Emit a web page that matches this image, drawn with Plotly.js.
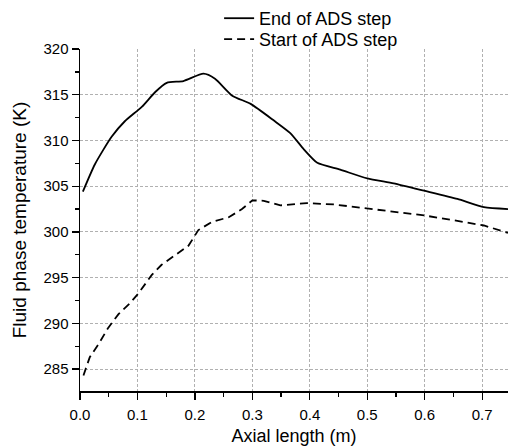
<!DOCTYPE html>
<html>
<head>
<meta charset="utf-8">
<script src="https://cdn.plot.ly/plotly-3.0.1.min.js"></script>
<style>html,body{margin:0;padding:0;background:#fff;}#chart{width:508px;height:448px;}</style>
</head>
<body>
<div id="chart"></div>
<script>
const endX = [0.005, 0.026, 0.055, 0.078, 0.108, 0.131, 0.151, 0.180, 0.215, 0.235, 0.265, 0.297, 0.337, 0.366, 0.390, 0.413, 0.453, 0.500, 0.546, 0.599, 0.657, 0.703, 0.745];
const endT = [304.4, 307.4, 310.4, 312.1, 313.7, 315.3, 316.3, 316.5, 317.3, 316.75, 314.9, 314.0, 312.2, 310.8, 309.0, 307.55, 306.8, 305.85, 305.3, 304.5, 303.6, 302.7, 302.5];
const startX = [0.006, 0.017, 0.032, 0.049, 0.067, 0.087, 0.102, 0.125, 0.142, 0.166, 0.189, 0.206, 0.230, 0.259, 0.282, 0.300, 0.320, 0.349, 0.395, 0.442, 0.483, 0.541, 0.599, 0.657, 0.703, 0.745];
const startT = [284.3, 286.3, 287.7, 289.5, 291.0, 292.2, 293.3, 295.3, 296.4, 297.5, 298.5, 300.2, 301.1, 301.6, 302.5, 303.45, 303.4, 302.9, 303.15, 303.0, 302.7, 302.3, 301.8, 301.2, 300.7, 299.9];
const seriesNames = ["End of ADS step", "Start of ADS step"];

const font = "Liberation Sans, Arial, sans-serif";
const traces = [
  {x: endX, y: endT, name: seriesNames[0], mode: "lines", legend: "legend",
   line: {color: "#000", width: 1.8, shape: "spline", smoothing: 0.6}},
  {x: startX, y: startT, name: seriesNames[1], mode: "lines", legend: "legend2",
   line: {color: "#000", width: 1.8, dash: "8px,5px"}}
];
const axisCommon = {
  showline: true, linecolor: "#000", linewidth: 1.5,
  ticks: "outside", ticklen: 7, tickwidth: 1.3, tickcolor: "#000",
  showgrid: true, gridcolor: "#b0b0b0", gridwidth: 1, griddash: "3px,2px",
  zeroline: false, mirror: false,
  tickfont: {family: font, size: 15, color: "#000"}
};
const legendCommon = {x: 0.325, xanchor: "left", yanchor: "middle",
  font: {family: font, size: 18, color: "#000"},
  bgcolor: "rgba(0,0,0,0)", borderwidth: 0};
const layout = {
  width: 508, height: 448,
  margin: {l: 80, r: 0, t: 45, b: 57},
  paper_bgcolor: "#fff", plot_bgcolor: "#fff",
  font: {family: font, color: "#000"},
  showlegend: true,
  legend: Object.assign({}, legendCommon, {y: 1.09}),
  legend2: Object.assign({}, legendCommon, {y: 1.028}),
  xaxis: Object.assign({}, axisCommon, {
    range: [0, 0.745], dtick: 0.1, tick0: 0, tickformat: ".1f", ticklabelstandoff: 2,
    minor: {dtick: 0.05, ticks: "outside", ticklen: 4, tickcolor: "#000", showgrid: false},
    title: {text: "Axial length (m)", font: {family: font, size: 18, color: "#000"}, standoff: 8}
  }),
  yaxis: Object.assign({}, axisCommon, {
    range: [282.6, 320], dtick: 5, tick0: 285,
    minor: {dtick: 2.5, ticks: "outside", ticklen: 4, tickcolor: "#000", showgrid: false},
    title: {text: "Fluid phase temperature (K)", font: {family: font, size: 19, color: "#000"}, standoff: 12}
  })
};
Plotly.newPlot("chart", traces, layout, {displayModeBar: false, staticPlot: true});
</script>
</body>
</html>
